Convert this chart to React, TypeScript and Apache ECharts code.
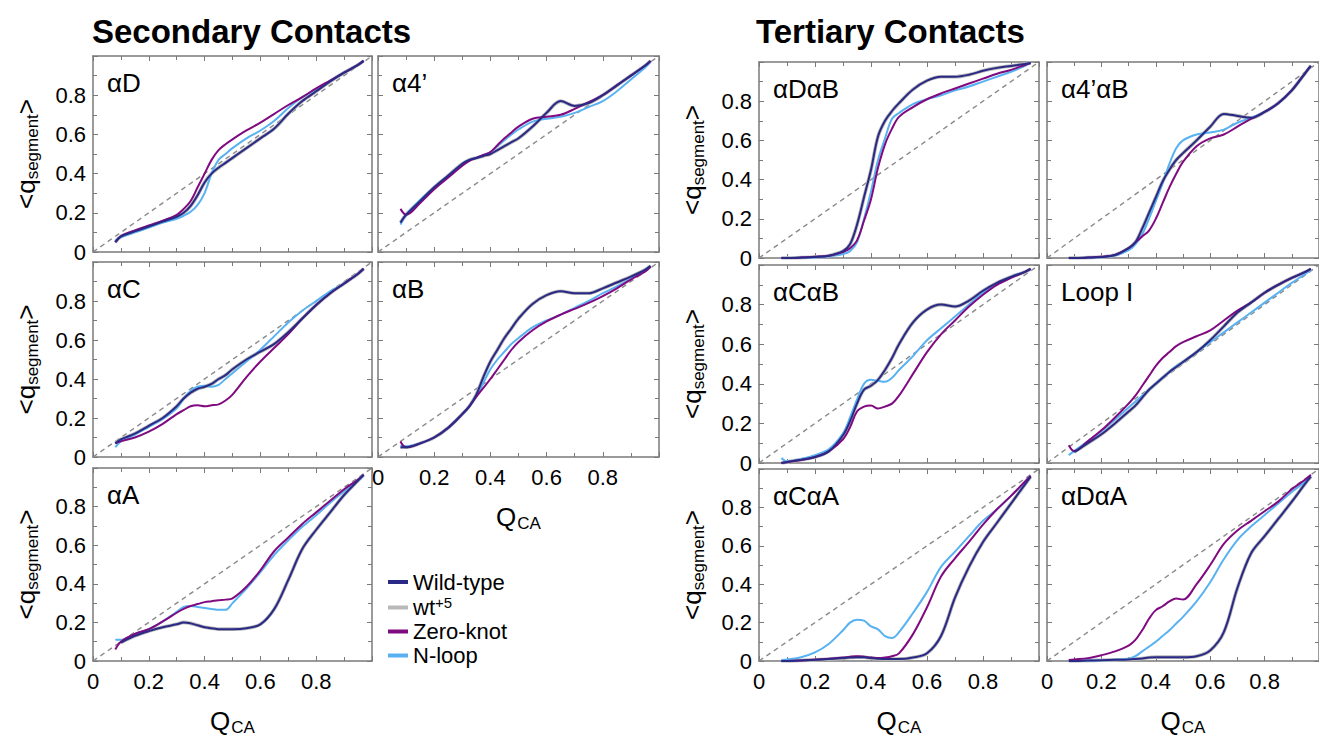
import React, { useEffect, useRef } from 'react';
import * as echarts from 'echarts';

// Shared Q_CA sampling grid (x values)
const qca = [0.08, 0.1, 0.15, 0.2, 0.25, 0.3, 0.325, 0.35, 0.375, 0.4, 0.425, 0.45, 0.475, 0.5, 0.55, 0.6, 0.65, 0.7, 0.75, 0.8, 0.85, 0.9, 0.95, 0.97];
const tickValues = [0, 0.2, 0.4, 0.6, 0.8];
const seriesNames = ['Wild-type', 'wt+5', 'Zero-knot', 'N-loop'];

// ---- Secondary contacts ----
const aD_wt = [0.05, 0.08, 0.105, 0.13, 0.155, 0.18, 0.2, 0.235, 0.29, 0.355, 0.4, 0.43, 0.455, 0.48, 0.53, 0.58, 0.63, 0.705, 0.77, 0.82, 0.87, 0.915, 0.955, 0.975];
const aD_zk = [0.05, 0.08, 0.11, 0.135, 0.16, 0.19, 0.22, 0.26, 0.33, 0.4, 0.47, 0.52, 0.55, 0.575, 0.62, 0.66, 0.705, 0.75, 0.79, 0.835, 0.875, 0.915, 0.955, 0.975];
const aD_nl = [0.06, 0.075, 0.1, 0.125, 0.15, 0.17, 0.185, 0.205, 0.24, 0.3, 0.4, 0.47, 0.5, 0.53, 0.58, 0.62, 0.67, 0.735, 0.79, 0.83, 0.875, 0.915, 0.955, 0.975];

const a4_wt = [0.15, 0.19, 0.26, 0.33, 0.39, 0.45, 0.47, 0.48, 0.49, 0.5, 0.52, 0.54, 0.56, 0.58, 0.64, 0.71, 0.77, 0.745, 0.76, 0.8, 0.85, 0.9, 0.95, 0.975];
const a4_zk = [0.22, 0.19, 0.25, 0.32, 0.38, 0.44, 0.465, 0.48, 0.495, 0.51, 0.545, 0.58, 0.61, 0.64, 0.68, 0.69, 0.7, 0.73, 0.765, 0.8, 0.85, 0.9, 0.95, 0.975];
const a4_nl = [0.14, 0.19, 0.265, 0.33, 0.39, 0.45, 0.47, 0.48, 0.495, 0.51, 0.54, 0.57, 0.6, 0.625, 0.665, 0.68, 0.69, 0.71, 0.74, 0.77, 0.82, 0.88, 0.94, 0.97];

const aC_wt = [0.07, 0.09, 0.12, 0.16, 0.2, 0.26, 0.3, 0.33, 0.35, 0.36, 0.375, 0.4, 0.42, 0.45, 0.5, 0.54, 0.58, 0.64, 0.71, 0.78, 0.84, 0.89, 0.94, 0.965];
const aC_zk = [0.07, 0.08, 0.1, 0.13, 0.17, 0.22, 0.24, 0.26, 0.265, 0.26, 0.265, 0.27, 0.29, 0.32, 0.41, 0.49, 0.56, 0.63, 0.71, 0.78, 0.84, 0.89, 0.94, 0.965];
const aC_nl = [0.05, 0.08, 0.115, 0.155, 0.195, 0.25, 0.3, 0.34, 0.36, 0.365, 0.36, 0.37, 0.4, 0.43, 0.49, 0.55, 0.62, 0.69, 0.75, 0.8, 0.85, 0.89, 0.94, 0.965];

const aB_wt = [0.05, 0.05, 0.07, 0.1, 0.15, 0.22, 0.26, 0.32, 0.41, 0.49, 0.55, 0.61, 0.66, 0.71, 0.785, 0.83, 0.85, 0.84, 0.84, 0.865, 0.895, 0.925, 0.96, 0.98];
const aB_zk = [0.08, 0.05, 0.07, 0.1, 0.15, 0.22, 0.26, 0.31, 0.355, 0.4, 0.45, 0.5, 0.55, 0.59, 0.65, 0.695, 0.73, 0.76, 0.79, 0.825, 0.865, 0.91, 0.95, 0.975];
const aB_nl = [0.06, 0.055, 0.07, 0.1, 0.15, 0.22, 0.26, 0.31, 0.38, 0.45, 0.5, 0.54, 0.58, 0.61, 0.665, 0.7, 0.73, 0.765, 0.8, 0.84, 0.875, 0.915, 0.955, 0.975];

const aA_wt = [null, 0.095, 0.13, 0.155, 0.175, 0.19, 0.2, 0.195, 0.185, 0.175, 0.17, 0.165, 0.165, 0.165, 0.17, 0.19, 0.27, 0.42, 0.58, 0.68, 0.77, 0.86, 0.935, 0.965];
const aA_zk = [0.06, 0.1, 0.14, 0.165, 0.205, 0.25, 0.27, 0.285, 0.295, 0.305, 0.31, 0.315, 0.318, 0.325, 0.385, 0.47, 0.57, 0.64, 0.71, 0.77, 0.83, 0.89, 0.94, 0.965];
const aA_nl = [0.11, 0.11, 0.14, 0.165, 0.205, 0.255, 0.28, 0.285, 0.28, 0.275, 0.27, 0.265, 0.265, 0.3, 0.375, 0.46, 0.55, 0.625, 0.695, 0.755, 0.82, 0.88, 0.935, 0.96];

// ---- Tertiary contacts ----
const aDaB_wt = [0, 0, 0.002, 0.005, 0.012, 0.035, 0.07, 0.17, 0.31, 0.45, 0.62, 0.7, 0.75, 0.79, 0.86, 0.905, 0.925, 0.925, 0.935, 0.955, 0.97, 0.98, 0.99, 0.995];
const aDaB_zk = [0, 0, 0.002, 0.006, 0.012, 0.03, 0.05, 0.09, 0.19, 0.3, 0.46, 0.58, 0.66, 0.72, 0.77, 0.81, 0.84, 0.865, 0.89, 0.915, 0.94, 0.96, 0.985, 0.995];
const aDaB_nl = [0, 0, 0.001, 0.003, 0.008, 0.02, 0.035, 0.08, 0.2, 0.34, 0.5, 0.61, 0.71, 0.74, 0.785, 0.81, 0.83, 0.855, 0.875, 0.9, 0.925, 0.95, 0.98, 0.995];

const a4aB_wt = [0, 0, 0.002, 0.005, 0.015, 0.05, 0.08, 0.15, 0.23, 0.31, 0.39, 0.45, 0.5, 0.535, 0.6, 0.67, 0.735, 0.725, 0.715, 0.745, 0.79, 0.855, 0.945, 0.98];
const a4aB_zk = [0, 0, 0.002, 0.006, 0.016, 0.05, 0.08, 0.11, 0.14, 0.2, 0.28, 0.36, 0.43, 0.49, 0.57, 0.61, 0.63, 0.67, 0.71, 0.745, 0.79, 0.855, 0.945, 0.98];
const a4aB_nl = [0, 0, 0.001, 0.004, 0.012, 0.04, 0.07, 0.12, 0.2, 0.29, 0.38, 0.48, 0.56, 0.6, 0.63, 0.64, 0.655, 0.69, 0.715, 0.745, 0.79, 0.855, 0.945, 0.98];

const aCaB_wt = [0, 0.005, 0.017, 0.03, 0.06, 0.14, 0.21, 0.3, 0.37, 0.39, 0.42, 0.47, 0.53, 0.6, 0.71, 0.775, 0.8, 0.79, 0.82, 0.87, 0.91, 0.94, 0.965, 0.98];
const aCaB_zk = [0, 0.004, 0.015, 0.03, 0.06, 0.12, 0.18, 0.26, 0.285, 0.29, 0.275, 0.285, 0.3, 0.34, 0.45, 0.56, 0.65, 0.72, 0.79, 0.85, 0.9, 0.935, 0.965, 0.98];
const aCaB_nl = [0.025, 0.008, 0.02, 0.04, 0.07, 0.15, 0.23, 0.32, 0.4, 0.42, 0.415, 0.41, 0.43, 0.47, 0.54, 0.62, 0.68, 0.74, 0.8, 0.86, 0.905, 0.94, 0.965, 0.98];

const loopI_wt = [null, 0.055, 0.1, 0.145, 0.2, 0.26, 0.29, 0.33, 0.37, 0.4, 0.43, 0.46, 0.485, 0.51, 0.56, 0.62, 0.69, 0.76, 0.81, 0.86, 0.9, 0.935, 0.965, 0.98];
const loopI_zk = [0.09, 0.06, 0.11, 0.165, 0.23, 0.3, 0.34, 0.39, 0.44, 0.49, 0.53, 0.56, 0.59, 0.61, 0.64, 0.67, 0.72, 0.77, 0.81, 0.86, 0.9, 0.935, 0.965, 0.98];
const loopI_nl = [0.04, 0.06, 0.11, 0.16, 0.22, 0.28, 0.31, 0.34, 0.37, 0.4, 0.43, 0.46, 0.49, 0.51, 0.56, 0.61, 0.66, 0.71, 0.76, 0.81, 0.86, 0.91, 0.955, 0.975];

const aCaA_wt = [0, 0, 0.003, 0.006, 0.01, 0.015, 0.018, 0.02, 0.02, 0.015, 0.012, 0.01, 0.01, 0.01, 0.018, 0.04, 0.13, 0.33, 0.49, 0.62, 0.72, 0.82, 0.92, 0.96];
const aCaA_zk = [0, 0, 0.003, 0.008, 0.012, 0.018, 0.022, 0.025, 0.022, 0.018, 0.015, 0.018, 0.025, 0.04, 0.14, 0.28, 0.44, 0.535, 0.62, 0.71, 0.79, 0.86, 0.935, 0.965];
const aCaA_nl = [0.005, 0.008, 0.02, 0.045, 0.09, 0.16, 0.2, 0.215, 0.21, 0.18, 0.165, 0.13, 0.12, 0.15, 0.25, 0.36, 0.49, 0.57, 0.65, 0.73, 0.79, 0.86, 0.93, 0.965];

const aDaA_wt = [0, 0, 0.002, 0.004, 0.006, 0.008, 0.01, 0.013, 0.018, 0.02, 0.02, 0.02, 0.02, 0.02, 0.025, 0.055, 0.15, 0.38, 0.56, 0.65, 0.74, 0.83, 0.925, 0.96];
const aDaA_zk = [0.005, 0.008, 0.015, 0.03, 0.05, 0.08, 0.11, 0.16, 0.22, 0.265, 0.285, 0.31, 0.325, 0.32, 0.4, 0.5, 0.61, 0.68, 0.73, 0.78, 0.83, 0.895, 0.945, 0.97];
const aDaA_nl = [0, 0, 0.002, 0.004, 0.007, 0.012, 0.025, 0.05, 0.075, 0.1, 0.13, 0.16, 0.195, 0.23, 0.31, 0.41, 0.53, 0.63, 0.7, 0.76, 0.82, 0.88, 0.935, 0.965];

// wt+5 readings are indistinguishable from wild-type (grey halo under the navy line)
const aD_wt5 = aD_wt, a4_wt5 = a4_wt, aC_wt5 = aC_wt, aB_wt5 = aB_wt, aA_wt5 = aA_wt;
const aDaB_wt5 = aDaB_wt, a4aB_wt5 = a4aB_wt, aCaB_wt5 = aCaB_wt, loopI_wt5 = loopI_wt, aCaA_wt5 = aCaA_wt, aDaA_wt5 = aDaA_wt;

const panelLabels = ['αD', 'α4’', 'αC', 'αB', 'αA', 'αDαB', 'α4’αB', 'αCαB', 'Loop I', 'αCαA', 'αDαA'];
const panelData = [
  [aD_wt, aD_wt5, aD_zk, aD_nl],
  [a4_wt, a4_wt5, a4_zk, a4_nl],
  [aC_wt, aC_wt5, aC_zk, aC_nl],
  [aB_wt, aB_wt5, aB_zk, aB_nl],
  [aA_wt, aA_wt5, aA_zk, aA_nl],
  [aDaB_wt, aDaB_wt5, aDaB_zk, aDaB_nl],
  [a4aB_wt, a4aB_wt5, a4aB_zk, a4aB_nl],
  [aCaB_wt, aCaB_wt5, aCaB_zk, aCaB_nl],
  [loopI_wt, loopI_wt5, loopI_zk, loopI_nl],
  [aCaA_wt, aCaA_wt5, aCaA_zk, aCaA_nl],
  [aDaA_wt, aDaA_wt5, aDaA_zk, aDaA_nl],
];

// Layout (pixel boxes of each panel) and which axes carry labels
const boxes = [
  { l: 93, t: 56, w: 279, h: 196, xl: false, yl: true },
  { l: 378, t: 56, w: 281, h: 196, xl: false, yl: false },
  { l: 93, t: 262, w: 279, h: 195, xl: false, yl: true },
  { l: 378, t: 262, w: 281, h: 195, xl: true, yl: false },
  { l: 93, t: 468, w: 279, h: 196, xl: true, yl: true },
  { l: 759, t: 62, w: 280, h: 196, xl: false, yl: true },
  { l: 1047, t: 62, w: 280, h: 196, xl: false, yl: false },
  { l: 759, t: 265, w: 280, h: 198, xl: false, yl: true },
  { l: 1047, t: 265, w: 280, h: 198, xl: false, yl: false },
  { l: 759, t: 469, w: 280, h: 197, xl: true, yl: true },
  { l: 1047, t: 469, w: 280, h: 197, xl: true, yl: false },
];

const FONT = '"Liberation Sans", Arial, Helvetica, sans-serif';
const COLORS: Record<string, string> = {
  'Wild-type': '#2a2a86',
  'wt+5': '#b8b8b8',
  'Zero-knot': '#800a80',
  'N-loop': '#58b2f2',
};
const WIDTHS: Record<string, number> = { 'Wild-type': 2, 'wt+5': 3.6, 'Zero-knot': 2, 'N-loop': 2 };
const DRAW_ORDER = ['wt+5', 'N-loop', 'Zero-knot', 'Wild-type'];
const AXIS_COLOR = '#7a7a7a';

const fmtTick = (v: number) => (v >= 0.999 ? '' : String(Number(v.toFixed(1))));

function buildOption() {
  const grid: any[] = [];
  const xAxis: any[] = [];
  const yAxis: any[] = [];
  const series: any[] = [];
  const graphic: any[] = [];

  const baseAxis = (gi: number) => ({
    gridIndex: gi,
    type: 'value',
    min: 0,
    max: 1,
    interval: 0.2,
    splitLine: { show: false },
    axisLine: { show: true, onZero: false, lineStyle: { color: AXIS_COLOR, width: 1.5 } },
    axisTick: { show: true, inside: true, length: 5, lineStyle: { color: AXIS_COLOR, width: 1 } },
    minorTick: { show: true, splitNumber: 2, length: 4, lineStyle: { color: AXIS_COLOR, width: 1 } },
    minorSplitLine: { show: false },
  });

  boxes.forEach((b, i) => {
    grid.push({ left: b.l, top: b.t, width: b.w, height: b.h, containLabel: false });
    xAxis.push({
      ...baseAxis(i),
      position: 'bottom',
      axisLabel: {
        show: b.xl, color: '#000', fontSize: 22, fontFamily: FONT, margin: 9,
        formatter: fmtTick, customValues: tickValues,
      },
      name: b.xl ? '{q|Q}{s|CA}' : '',
      nameLocation: 'middle',
      nameGap: 44,
      nameTextStyle: {
        rich: {
          q: { fontSize: 26, color: '#000', fontFamily: FONT },
          s: { fontSize: 17, color: '#000', fontFamily: FONT, padding: [14, 0, 0, 1] },
        },
      },
    });
    xAxis.push({ ...baseAxis(i), position: 'top', axisLabel: { show: false } });
    yAxis.push({
      ...baseAxis(i),
      position: 'left',
      axisLabel: {
        show: b.yl, color: '#000', fontSize: 22, fontFamily: FONT, margin: 7,
        formatter: fmtTick, customValues: tickValues,
      },
      name: b.yl ? '{a|<q}{s|segment}{a|>}' : '',
      nameLocation: 'middle',
      nameRotate: 90,
      nameGap: 52,
      nameTextStyle: {
        rich: {
          a: { fontSize: 26, color: '#000', fontFamily: FONT },
          s: { fontSize: 17, color: '#000', fontFamily: FONT, padding: [14, 0, 0, 0] },
        },
      },
    });
    yAxis.push({ ...baseAxis(i), position: 'right', axisLabel: { show: false } });

    series.push({
      type: 'line',
      xAxisIndex: 2 * i,
      yAxisIndex: 2 * i,
      data: [[0, 0], [1, 1]],
      symbol: 'none',
      silent: true,
      lineStyle: { color: '#8a8a8a', width: 1.4, type: [5, 4] },
      z: 1,
    });

    const sets = panelData[i];
    DRAW_ORDER.forEach((name, k) => {
      const arr = sets[seriesNames.indexOf(name)];
      const data = qca.map((x, j) => [x, arr[j]]).filter((p) => p[1] !== null);
      series.push({
        name,
        type: 'line',
        xAxisIndex: 2 * i,
        yAxisIndex: 2 * i,
        data,
        smooth: 0.35,
        symbol: 'none',
        showSymbol: false,
        color: COLORS[name],
        itemStyle: { color: COLORS[name] },
        lineStyle: { color: COLORS[name], width: WIDTHS[name] },
        z: 2 + k,
      });
    });

    graphic.push({
      type: 'text',
      x: b.l + 14,
      y: b.t + 27,
      silent: true,
      style: {
        text: panelLabels[i],
        fontSize: 26,
        fontFamily: FONT,
        fill: '#000',
        verticalAlign: 'middle',
        align: 'left',
      },
    });
  });

  graphic.push({
    type: 'text', x: 92, y: 31, silent: true,
    style: { text: 'Secondary Contacts', fontSize: 33, fontWeight: 'bold', fontFamily: FONT, fill: '#000', verticalAlign: 'middle', align: 'left' },
  });
  graphic.push({
    type: 'text', x: 756, y: 31, silent: true,
    style: { text: 'Tertiary Contacts', fontSize: 33, fontWeight: 'bold', fontFamily: FONT, fill: '#000', verticalAlign: 'middle', align: 'left' },
  });

  return {
    animation: false,
    backgroundColor: '#ffffff',
    textStyle: { fontFamily: FONT },
    grid,
    xAxis,
    yAxis,
    series,
    graphic,
    legend: {
      data: seriesNames,
      orient: 'vertical',
      left: 383,
      top: 566,
      icon: 'rect',
      itemWidth: 20,
      itemHeight: 4,
      itemGap: 2,
      selectedMode: false,
      formatter: (name: string) => (name === 'wt+5' ? '{n|wt}{p|+5}' : '{n|' + name + '}'),
      textStyle: {
        color: '#000',
        fontSize: 22,
        fontFamily: FONT,
        rich: {
          n: { fontSize: 22, color: '#000', fontFamily: FONT, lineHeight: 21 },
          p: { fontSize: 15, color: '#000', fontFamily: FONT, padding: [0, 0, 10, 0] },
        },
      },
    },
  };
}

export default function App() {
  const ref = useRef<HTMLDivElement>(null);
  useEffect(() => {
    if (!ref.current) return;
    const chart = echarts.init(ref.current, null, { renderer: 'svg' });
    chart.setOption(buildOption() as any);
    return () => chart.dispose();
  }, []);
  return (
    <div
      ref={ref}
      style={{ position: 'fixed', left: 0, top: 0, width: 1319, height: 737, background: '#fff' }}
    />
  );
}
